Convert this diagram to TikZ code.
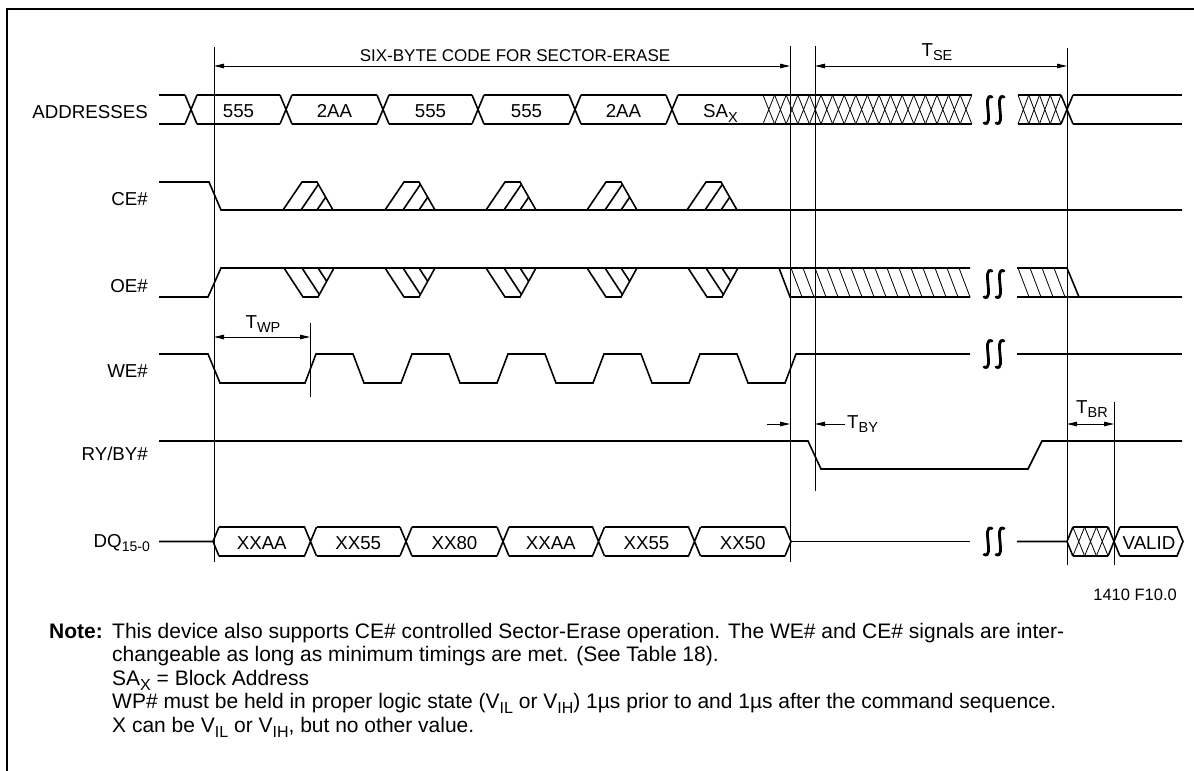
\documentclass[tikz,border=0pt]{standalone}
\usepackage{fontspec}
\setmainfont{Liberation Sans}
\usetikzlibrary{arrows.meta}
\newcommand{\lowsub}[2][14.5]{\raisebox{-0.25em}{\fontsize{#1}{#1}\selectfont #2}}
\newcommand{\notefont}{\fontsize{21}{24}\selectfont}
\tikzset{
  sig/.style={line width=1.6pt},
  hatch/.style={line width=0.8pt},
  marker/.style={line width=0.9pt},
  dim/.style={line width=0.9pt},
  brk/.style={line width=2.8pt, line cap=round},
  >={Triangle[length=10pt,width=4.5pt]}
}
\begin{document}
\begin{tikzpicture}[x=1pt, y=-1pt, font=\fontsize{18.7}{22}\selectfont,
  every node/.style={inner sep=0pt}]
\useasboundingbox (0,0) rectangle (1194,771);

% frame
\draw[line width=1.2pt] (7,771) -- (7,9) -- (1194,9);

% signal names
\node[anchor=base east] (lblAddr) at (148,118) {ADDRESSES};
\node[anchor=base east] (lblCE) at (148,205) {CE\#};
\node[anchor=base east] (lblOE) at (148,292) {OE\#};
\node[anchor=base east] (lblWE) at (148,377) {WE\#};
\node[anchor=base east] (lblRY) at (148,460) {RY/BY\#};
\node[anchor=base east] (lblDQ) at (150,547) {DQ\lowsub[14]{15-0}};

% reference lines
\coordinate (m1t) at (214,47);   \coordinate (m1b) at (214,562);
\coordinate (m2t) at (790,46);   \coordinate (m2b) at (790,562);
\coordinate (m3t) at (815,46);   \coordinate (m3b) at (815,491);
\coordinate (m4t) at (1067,48);  \coordinate (m4b) at (1067,565);
\coordinate (m5t) at (1114,402); \coordinate (m5b) at (1114,565);
\coordinate (wpt) at (310,323);  \coordinate (wpb) at (310,397);
\draw[marker] (m1t) -- (m1b);
\draw[marker] (m2t) -- (m2b);
\draw[marker] (m3t) -- (m3b);
\draw[marker] (m4t) -- (m4b);
\draw[marker] (m5t) -- (m5b);
\draw[marker] (wpt) -- (wpb);

% timing arrows
\coordinate (sixL) at (214,66);  \coordinate (sixR) at (790,66);
\coordinate (tseL) at (815,66);  \coordinate (tseR) at (1067,66);
\coordinate (twpL) at (214,337); \coordinate (twpR) at (310,337);
\coordinate (tbyA) at (767,424); \coordinate (tbyB) at (790,424);
\coordinate (tbyC) at (845,424); \coordinate (tbyD) at (815,424);
\coordinate (tbrL) at (1067,424); \coordinate (tbrR) at (1114,424);
\draw[dim, <->] (sixL) -- (sixR);
\draw[dim, <->] (tseL) -- (tseR);
\draw[dim, <->] (twpL) -- (twpR);
\draw[dim, ->] (tbyA) -- (tbyB);
\draw[dim, ->] (tbyC) -- (tbyD);
\draw[dim, <->] (tbrL) -- (tbrR);
\node[anchor=base, font=\fontsize{17}{20}\selectfont] (lblSix) at (515,61.5) {SIX-BYTE CODE FOR SECTOR-ERASE};
\node[anchor=base] (lblTse) at (937,56) {T\lowsub{SE}};
\node[anchor=base] (lblTwp) at (263,328) {T\lowsub{WP}};
\node[anchor=base west] (lblTby) at (847,428) {T\lowsub{BY}};
\node[anchor=base] (lblTbr) at (1092,413) {T\lowsub{BR}};

% addresses
\draw[sig] (159,95) -- (185,95) (159,124) -- (185,124);
\foreach \c in {191,286,383,478,575,672}
  \draw[sig] (\c-6,95) -- (\c+6,124) (\c-6,124) -- (\c+6,95);
\foreach \a/\b/\t [count=\i] in {191/286/555, 286/383/2AA, 383/478/555, 478/575/555, 575/672/2AA, 672/769/{SA\lowsub{X}}} {
  \draw[sig] (\a+6,95) -- (\b-6,95) (\a+6,124) -- (\b-6,124);
  \node[anchor=base] (addr\i) at ({(\a+\b)/2},117.5) {\t};
}
\draw[sig] (763,95) -- (972,95) (763,124) -- (972,124);
\foreach \k in {0,...,17}
  \draw[hatch] (763+11.6*\k,95) -- (774.6+11.6*\k,124) (763+11.6*\k,124) -- (774.6+11.6*\k,95);
\draw[sig] (1018,95) -- (1061,95) (1018,124) -- (1061,124);
\foreach \k in {0,...,3}
  \draw[hatch] (1018+10.75*\k,95) -- (1028.75+10.75*\k,124) (1018+10.75*\k,124) -- (1028.75+10.75*\k,95);
\draw[sig] (1061,95) -- (1073,124) (1061,124) -- (1073,95);
\draw[sig] (1073,95) -- (1182,95) (1073,124) -- (1182,124);

% CE#
\draw[sig] (159,182) -- (209,182) -- (221,210) -- (1182,210);
\foreach \b in {283,385,486,587,687} {
  \draw[sig] (\b,210) -- (\b+19,182) -- (\b+34,182) -- (\b+50,210);
  \begin{scope}
    \clip (\b,210) -- (\b+19,182) -- (\b+34,182) -- (\b+50,210) -- cycle;
    \draw[sig] (\b+18,210) -- (\b+37,182) (\b+34,210) -- (\b+53,182);
  \end{scope}
}

% OE#
\draw[sig] (159,297) -- (208,297) -- (221,268) -- (970,268);
\foreach \b in {284,385,486,587,688} {
  \draw[sig] (\b,268) -- (\b+19,297) -- (\b+34,297) -- (\b+50,268);
  \begin{scope}
    \clip (\b,268) -- (\b+19,297) -- (\b+34,297) -- (\b+50,268) -- cycle;
    \draw[sig] (\b+18,268) -- (\b+37,297) (\b+34,268) -- (\b+53,297);
  \end{scope}
}
\draw[sig] (779,268) -- (790,297) -- (970,297);
\foreach \k in {1,...,15}
  \draw[hatch] (779+12*\k,268) -- (790+12*\k,297);
\draw[sig] (1017,268) -- (1067,268) -- (1079,297) (1017,297) -- (1182,297);
\foreach \k in {0,...,3}
  \draw[hatch] (1018+12*\k,268) -- (1029+12*\k,297);

% WE#
\draw[sig] (159,354) -- (208,354) -- (220,383) -- (305,383) -- (316,354)
  \foreach \f in {353,449,545,641,737} { -- (\f,354) -- (\f+11,383) -- (\f+48,383) -- (\f+59,354) }
  -- (970,354);
\draw[sig] (1017,354) -- (1182,354);

% RY/BY#
\draw[sig] (159,441) -- (808,441) -- (821,469) -- (1028,469) -- (1042,441) -- (1182,441);

% DQ
\draw[sig] (159,541.5) -- (213,541.5) -- (219,527) (213,541.5) -- (219,556);
\foreach \c in {310.5,406,503,598.5,694.5}
  \draw[sig] (\c-6,527) -- (\c+6,556) (\c-6,556) -- (\c+6,527);
\foreach \a/\b/\t [count=\i] in {213/310.5/XXAA, 310.5/406/XX55, 406/503/XX80, 503/598.5/XXAA, 598.5/694.5/XX55, 694.5/791/XX50} {
  \draw[sig] (\a+6,527) -- (\b-6,527) (\a+6,556) -- (\b-6,556);
  \node[anchor=base] (dq\i) at ({(\a+\b)/2},549) {\t};
}
\draw[sig] (785,527) -- (791,541.5) -- (785,556);
\draw[sig] (791,541.5) -- (970,541.5);
\draw[sig] (1017,541.5) -- (1067,541.5) -- (1072.9,527) (1067,541.5) -- (1072.9,556);
\draw[sig] (1072.9,527) -- (1108.1,527) (1072.9,556) -- (1108.1,556);
\foreach \k in {1,2,3}
  \draw[hatch] (1061.1+11.75*\k,527) -- (1072.9+11.75*\k,556) (1061.1+11.75*\k,556) -- (1072.9+11.75*\k,527);
\draw[sig] (1108.1,527) -- (1119.9,556) (1108.1,556) -- (1119.9,527);
\draw[sig] (1119.9,527) -- (1177,527) -- (1183,541.5) -- (1177,556) -- (1119.9,556);
\node[anchor=base] (dqValid) at (1149,549) {VALID};

% breaks
\foreach \y in {110,284,354,541.5}
  \foreach \x in {988,1000}
    \draw[brk] (\x+4,\y-13) .. controls (\x-7,\y-18) and (\x+7,\y+18) .. (\x-4,\y+13);

% figure id and notes
\node[anchor=east, font=\fontsize{16.5}{20}\selectfont] (figId) at (1177,595) {1410 F10.0};
\node[anchor=base west, font=\notefont\bfseries] (noteHead) at (49,638) {Note:};
\node[anchor=base west, font=\notefont] (note1) at (112,638) {This device also supports CE\# controlled Sector-Erase operation. The WE\# and CE\# signals are inter-};
\node[anchor=base west, font=\notefont] (note2) at (112,661.5) {changeable as long as minimum timings are met. (See Table 18).};
\node[anchor=base west, font=\notefont] (note3) at (112,685) {SA\lowsub[16]{X} = Block Address};
\node[anchor=base west, font=\notefont] (note4) at (112,708.5) {WP\# must be held in proper logic state (V\lowsub[16]{IL} or V\lowsub[16]{IH}) 1µs prior to and 1µs after the command sequence.};
\node[anchor=base west, font=\notefont] (note5) at (112,732) {X can be V\lowsub[16]{IL} or V\lowsub[16]{IH}, but no other value.};
\end{tikzpicture}
\end{document}
